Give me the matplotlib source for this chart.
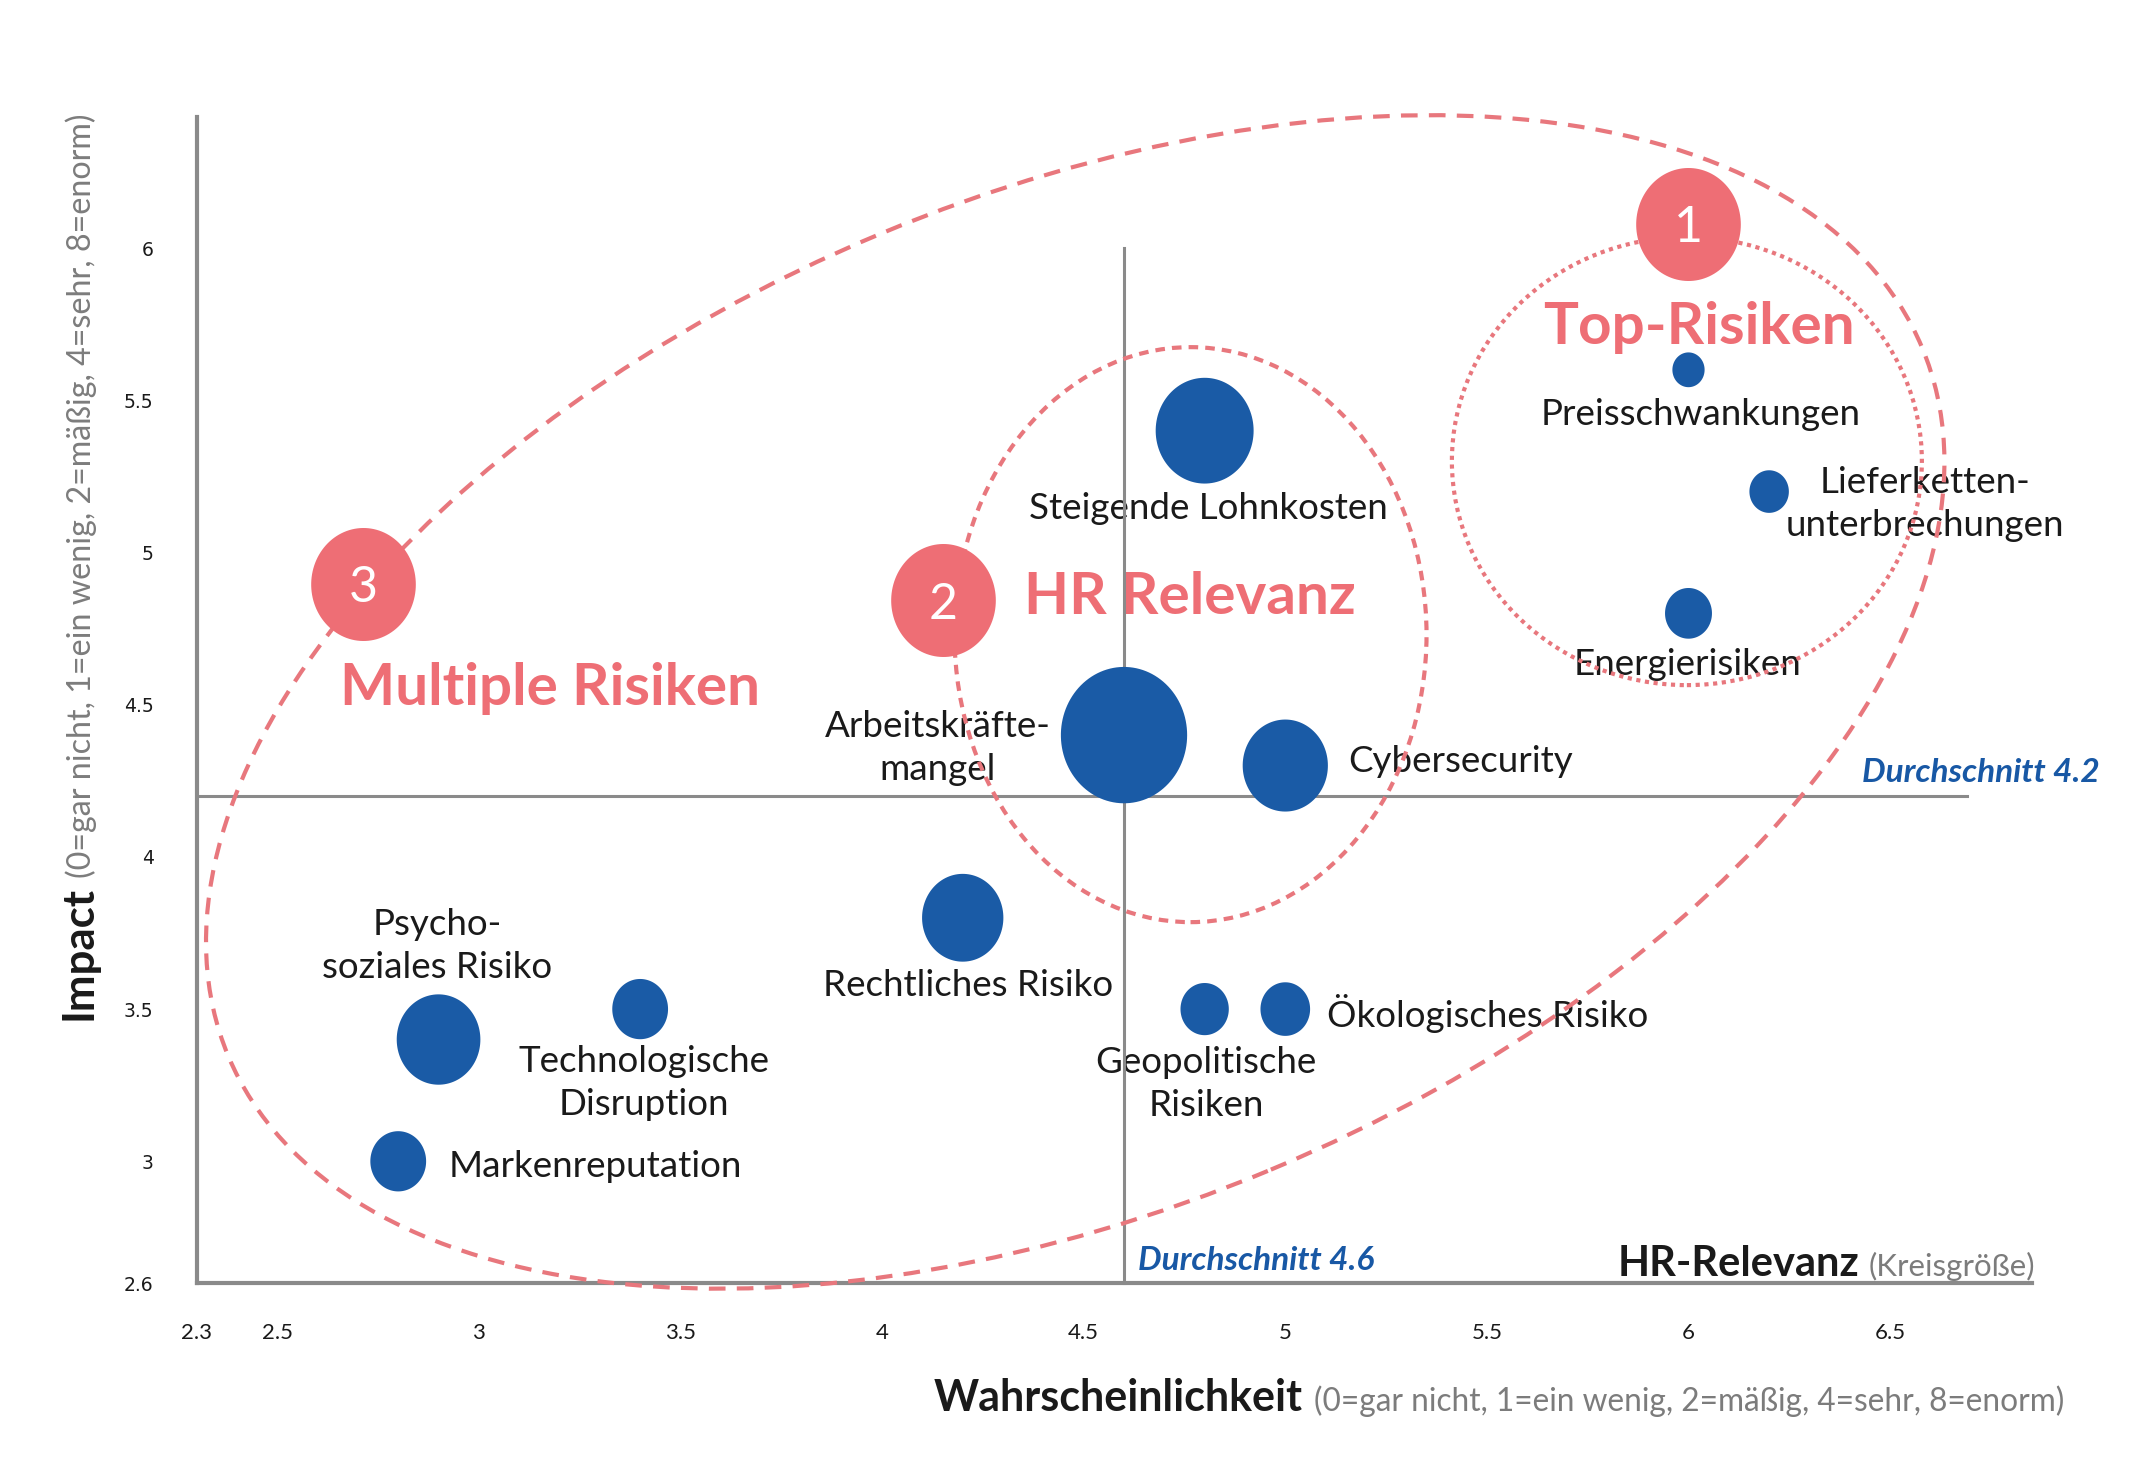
"""
Risikomatrix: Wahrscheinlichkeit vs. Impact, Kreisgröße = HR-Relevanz
"""

import numpy as np
import matplotlib
matplotlib.use("Agg")
from matplotlib import pyplot as plt
from matplotlib.path import Path
from matplotlib.patches import Ellipse
from matplotlib.transforms import ScaledTranslation, IdentityTransform

# Daten
risiken = ['Preisschwankungen', 'Lieferketten-\nunterbrechungen', 'Energierisiken',
           'Steigende Lohnkosten', 'Arbeitskräfte-\nmangel', 'Cybersecurity',
           'Rechtliches Risiko', 'Geopolitische\nRisiken', 'Ökologisches Risiko',
           'Psycho-\nsoziales Risiko', 'Technologische\nDisruption', 'Markenreputation']
wahrscheinlichkeit = [6.0, 6.2, 6.0, 4.8, 4.6, 5.0, 4.2, 4.8, 5.0, 2.9, 3.4, 2.8]
impact = [5.6, 5.2, 4.8, 5.4, 4.4, 4.3, 3.8, 3.5, 3.5, 3.4, 3.5, 3.0]
hr_relevanz = [0.8, 1.2, 1.7, 7.4, 12.3, 5.6, 5.1, 1.8, 1.9, 5.4, 2.4, 2.4]

schnitt_x = 4.6
schnitt_y = 4.2

xticks = [2.3, 2.5, 3, 3.5, 4, 4.5, 5, 5.5, 6, 6.5]
xticklabels = ['2.3', '2.5', '3', '3.5', '4', '4.5', '5', '5.5', '6', '6.5']
yticks = [2.6, 3, 3.5, 4, 4.5, 5, 5.5, 6]
yticklabels = ['2.6', '3', '3.5', '4', '4.5', '5', '5.5', '6']

# Gruppen: Nummer, Titel
gruppen_nr = ['1', '2', '3']
gruppen_titel = ['Top-Risiken', 'HR Relevanz', 'Multiple Risiken']

# Layout (Label-Versatz in Punkten, Ausrichtung)
label_offset = [(9, -32), (112, -9), (-1, -37), (3, -56), (-134, -9), (45, 3),
                (4, -49), (1, -54), (30, -3), (-1, 67), (3, -53), (36, -4)]
label_ha = ['center', 'center', 'center', 'center', 'center', 'left',
            'center', 'center', 'left', 'center', 'center', 'left']

nr_pos = [(6.0, 6.08), (4.151, 4.843), (2.713, 4.897)]
titel_pos = [(6.027, 5.738), (4.352, 4.852), (2.655, 4.554)]
titel_ha = ['center', 'left', 'left']

# Ellipsen: Mittelpunkt (Daten), Breite/Höhe (Zoll), Winkel, Linienstil
ellipsen = [
    ((4.479, 4.509), 18.36, 10.14, 22.7, (0, (4, 2.7))),
    ((4.765, 4.73), 4.72, 5.75, 0, (0, (2.3, 1.7))),
    ((5.996, 5.30), 4.70, 4.48, 0, (0, (1, 1.1))),
]

BLAU = '#1A5BA6'
ROSA = '#EE6E75'
ROSA_LINIE = '#E8777D'
GRAU = '#8A8A8A'
TEXT = '#1A1A1A'
FONT = 'Lato'

fig = plt.figure(figsize=(21.56, 14.77), dpi=100)
fig.patch.set_facecolor('white')
ax = fig.add_axes([0.0912, 0.1313, 0.8513, 0.7894])
ax.set_xlim(2.3, 6.852)
ax.set_ylim(2.6, 6.43)

for s in ['top', 'right']:
    ax.spines[s].set_visible(False)
for s in ['left', 'bottom']:
    ax.spines[s].set_color(GRAU)
    ax.spines[s].set_linewidth(3)

ax.set_xticks(xticks)
ax.set_xticklabels(xticklabels, family=FONT, fontsize=16, color=TEXT)
ax.set_yticks(yticks)
ax.set_yticklabels(yticklabels, family='DejaVu Sans', fontsize=13.5, color=TEXT)
ax.tick_params(axis='x', length=0, pad=29)
ax.tick_params(axis='y', length=0, pad=31)

# Durchschnittslinien
ax.plot([schnitt_x, schnitt_x], [2.6, 6.0], color=GRAU, lw=2.2, zorder=3, clip_on=False)
ax.plot([2.3, 6.69], [schnitt_y, schnitt_y], color=GRAU, lw=2.2, zorder=3, clip_on=False)

ax.annotate('Durchschnitt %.1f' % schnitt_y, xy=(7.02, schnitt_y), xytext=(0, 17),
            textcoords='offset points', ha='right', va='center', fontsize=24,
            family=FONT, weight='bold', style='italic', color='#1858A5',
            annotation_clip=False)
ax.annotate('Durchschnitt %.1f' % schnitt_x, xy=(schnitt_x, 2.6), xytext=(10, 16),
            textcoords='offset points', ha='left', va='center', fontsize=24,
            family=FONT, weight='bold', style='italic', color='#1858A5',
            annotation_clip=False)

# Gruppen-Ellipsen
for (mitte, breite, hoehe, winkel, stil) in ellipsen:
    trans = fig.dpi_scale_trans + ScaledTranslation(mitte[0], mitte[1], ax.transData)
    e = Ellipse((0, 0), breite, hoehe, angle=winkel, transform=trans, fill=False,
                edgecolor=ROSA_LINIE, lw=3, linestyle=stil, zorder=4, clip_on=False)
    ax.add_patch(e)

# leicht ovale Marker wie im Original
t = np.linspace(0, 2 * np.pi, 120)
oval = Path(np.column_stack([np.cos(t), 1.08 * np.sin(t)]))
px_pt = fig.dpi / 72.0

# Risiken
groessen = [(36 * np.sqrt(v) * 1.08 / px_pt) ** 2 for v in hr_relevanz]
ax.scatter(wahrscheinlichkeit, impact, s=groessen, marker=oval, color=BLAU,
           linewidths=0, zorder=5, clip_on=False)

for i, name in enumerate(risiken):
    ax.annotate(name, xy=(wahrscheinlichkeit[i], impact[i]), xytext=label_offset[i],
                textcoords='offset points', ha=label_ha[i], va='center',
                multialignment='center', fontsize=26.5, family=FONT, color=TEXT,
                linespacing=1.37, zorder=2)

# Nummernkreise und Titel
nx = [p[0] for p in nr_pos]
ny = [p[1] for p in nr_pos]
ax.scatter(nx, ny, s=(113 / px_pt) ** 2, marker=oval, color=ROSA, linewidths=0,
           zorder=6, clip_on=False)
for i, nr in enumerate(gruppen_nr):
    ax.text(nx[i], ny[i], nr, ha='center', va='center_baseline', fontsize=36,
            family=FONT, color='white', zorder=7)
    ax.text(titel_pos[i][0], titel_pos[i][1], gruppen_titel[i], ha=titel_ha[i],
            va='center', fontsize=42, family=FONT, weight='bold', color=ROSA, zorder=2)


# zweiteilige Beschriftung: fetter Teil + grauer Zusatz, gleiche Grundlinie
def zweiteilig(px, py, fett, grau, size_fett, size_grau, gap, rotation=0):
    renderer = fig.canvas.get_renderer()
    t1 = fig.text(px, py, fett, transform=IdentityTransform(), rotation=rotation,
                  rotation_mode='anchor', ha='left', va='baseline', family=FONT,
                  weight='bold', fontsize=size_fett, color=TEXT)
    bb = t1.get_window_extent(renderer)
    if rotation == 0:
        px2, py2 = px + bb.width + gap, py
    else:
        px2, py2 = px, py + bb.height + gap
    fig.text(px2, py2, grau, transform=IdentityTransform(), rotation=rotation,
             rotation_mode='anchor', ha='left', va='baseline', family=FONT,
             fontsize=size_grau, color='#7C7C7C')


zusatz = '(0=gar nicht, 1=ein wenig, 2=mäßig, 4=sehr, 8=enorm)'
H = fig.bbox.height
zweiteilig(934, H - 1411, 'Wahrscheinlichkeit', zusatz, 31, 22.8, 11)
zweiteilig(91, H - 1020, 'Impact', zusatz, 31.5, 23.2, 8, rotation=90)

hx, hy = ax.transData.transform((5.825, 2.624))
zweiteilig(hx, hy, 'HR-Relevanz', '(Kreisgröße)', 30, 22.5, 9)

fig.savefig('out.png', dpi=100, facecolor='white')
